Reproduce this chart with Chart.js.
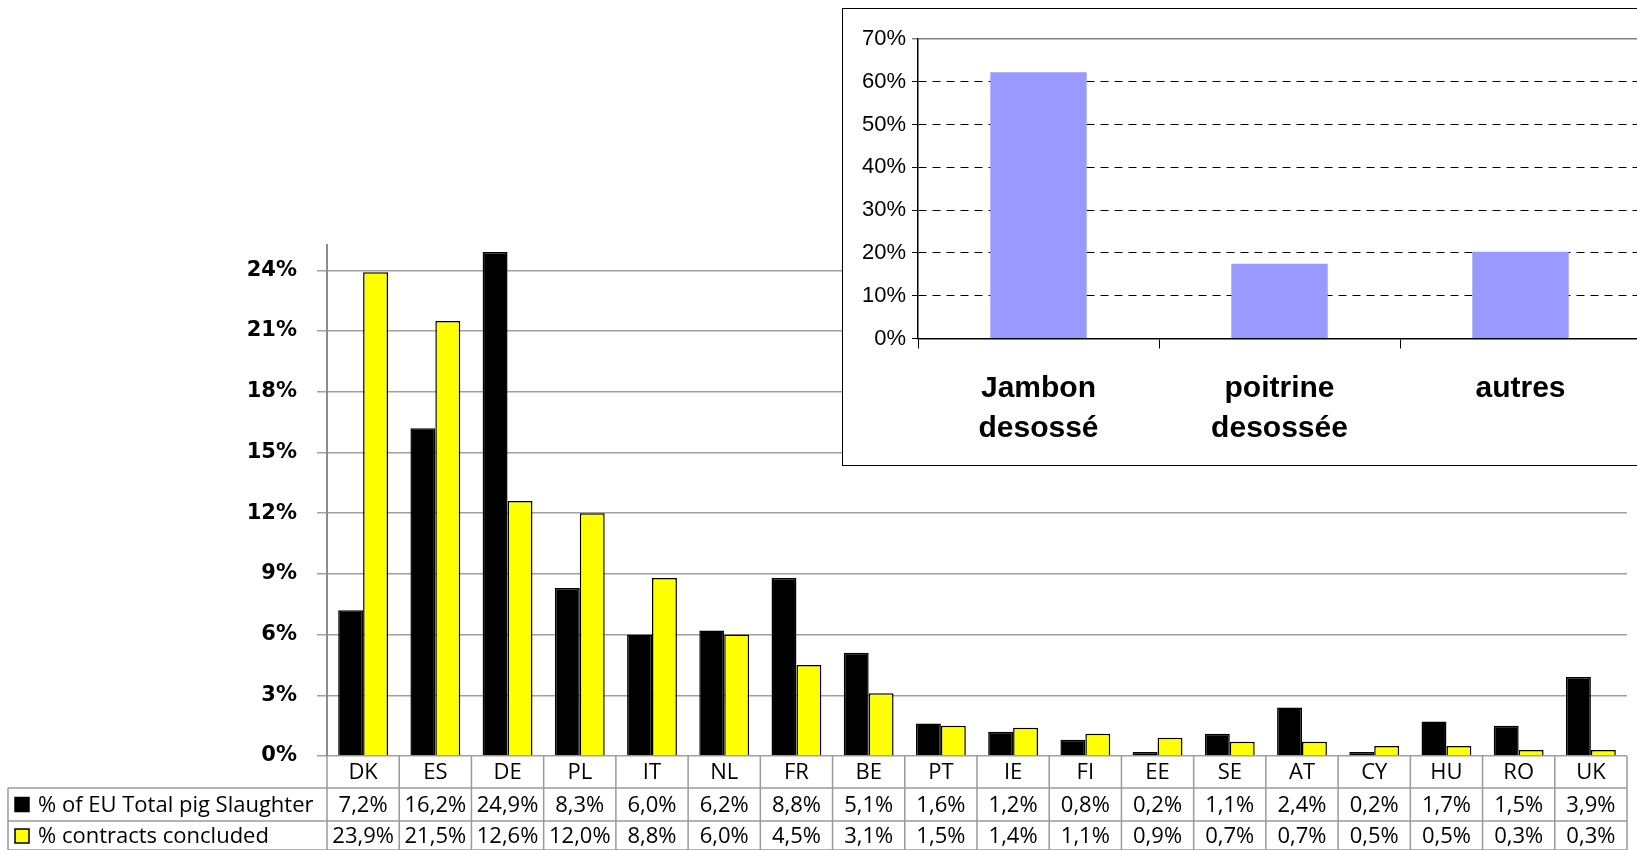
<!DOCTYPE html>
<html>
<head>
<meta charset="utf-8">
<script src="https://cdn.jsdelivr.net/npm/chart.js@4.4.1/dist/chart.umd.min.js"></script>
<style>
  html, body { margin: 0; padding: 0; background: #fff; overflow: hidden; }
  #wrap { position: relative; width: 1637px; height: 850px; }
  #mainChart { position: absolute; left: 0; top: 0; }
  #insetBox {
    position: absolute; left: 842px; top: 8px; width: 900px; height: 456px;
    border: 1.5px solid #000; background: #fff;
  }
</style>
</head>
<body>
<div id="wrap">
  <canvas id="mainChart" width="1637" height="850"></canvas>
  <div id="insetBox"><canvas id="insetChart" width="900" height="456"></canvas></div>
</div>
<script>
// main chart data
const countries = ['DK', 'ES', 'DE', 'PL', 'IT', 'NL', 'FR', 'BE', 'PT', 'IE', 'FI', 'EE', 'SE', 'AT', 'CY', 'HU', 'RO', 'UK'];
const slaughter = [7.2, 16.2, 24.9, 8.3, 6.0, 6.2, 8.8, 5.1, 1.6, 1.2, 0.8, 0.2, 1.1, 2.4, 0.2, 1.7, 1.5, 3.9];
const contracts = [23.9, 21.5, 12.6, 12.0, 8.8, 6.0, 4.5, 3.1, 1.5, 1.4, 1.1, 0.9, 0.7, 0.7, 0.5, 0.5, 0.3, 0.3];
const seriesNames = ['% of EU Total pig Slaughter', '% contracts concluded'];
const yTicks = [0, 3, 6, 9, 12, 15, 18, 21, 24];

// inset chart data
const cuts = [['Jambon', 'desossé'], ['poitrine', 'desossée'], ['autres']];
const cutShares = [62.2, 17.5, 20.3];
const insetTicks = [0, 10, 20, 30, 40, 50, 60, 70];

const fmt = v => v.toFixed(1).replace('.', ',') + '%';

// draws the data table under the x axis, using the x scale for column positions
const tablePlugin = {
  id: 'dataTable',
  afterDraw(chart) {
    const { ctx, chartArea, scales: { x } } = chart;
    const n = countries.length;
    const cw = (x.right - x.left) / n;
    const top = chartArea.bottom;
    const rows = [top, top + 32, top + 65, top + 95];
    const legendLeft = 8;

    ctx.save();
    ctx.strokeStyle = '#9a9a9a';
    ctx.lineWidth = 1.5;
    ctx.beginPath();
    for (let i = 0; i <= n; i++) {
      const px = i < n ? x.getPixelForValue(i) - cw / 2 : x.getPixelForValue(n - 1) + cw / 2;
      ctx.moveTo(px, rows[0]);
      ctx.lineTo(px, rows[3]);
    }
    ctx.moveTo(legendLeft, rows[1]); ctx.lineTo(x.right, rows[1]);
    ctx.moveTo(legendLeft, rows[2]); ctx.lineTo(x.right, rows[2]);
    ctx.moveTo(legendLeft, rows[3] - 1); ctx.lineTo(x.right, rows[3] - 1);
    ctx.moveTo(legendLeft, rows[1]); ctx.lineTo(legendLeft, rows[3]);
    ctx.stroke();

    ctx.fillStyle = '#000';
    ctx.font = '22px "Open Sans"';
    ctx.textAlign = 'center';
    ctx.textBaseline = 'middle';
    countries.forEach((c, i) => {
      const cx = x.getPixelForValue(i);
      ctx.fillText(c, cx, (rows[0] + rows[1]) / 2 + 1);
      ctx.fillText(fmt(slaughter[i]), cx, (rows[1] + rows[2]) / 2 + 1);
      ctx.fillText(fmt(contracts[i]), cx, (rows[2] + rows[3]) / 2 + 1);
    });

    // legend keys
    ctx.textAlign = 'left';
    const keys = [['#000000', '#000000'], ['#ffff00', '#000000']];
    seriesNames.forEach((name, r) => {
      const cy = (rows[r + 1] + rows[r + 2]) / 2;
      ctx.fillStyle = keys[r][0];
      ctx.fillRect(15, cy - 7, 14, 14);
      ctx.strokeStyle = keys[r][1];
      ctx.lineWidth = 1.5;
      ctx.strokeRect(15, cy - 7, 14, 14);
      ctx.fillStyle = '#000';
      ctx.fillText(name, 38, cy + 1);
    });
    ctx.restore();
  }
};

new Chart(document.getElementById('mainChart'), {
  type: 'bar',
  data: {
    labels: countries,
    datasets: [
      {
        label: seriesNames[0],
        data: slaughter,
        backgroundColor: '#000000',
        borderColor: '#000000',
        borderWidth: 1.5
      },
      {
        label: seriesNames[1],
        data: contracts,
        backgroundColor: '#ffff00',
        borderColor: '#000000',
        borderWidth: 1.5
      }
    ]
  },
  options: {
    responsive: false,
    animation: false,
    devicePixelRatio: 1,
    layout: { padding: { top: 245, right: 10, bottom: 94, left: 0 } },
    plugins: { legend: { display: false }, tooltip: { enabled: false } },
    datasets: { bar: { categoryPercentage: 0.69, barPercentage: 1 } },
    scales: {
      x: {
        ticks: { display: false },
        grid: { display: false },
        border: { display: false },
        afterFit: s => { s.height = 0; }
      },
      y: {
        min: 0,
        max: 25.25,
        afterBuildTicks: s => { s.ticks = yTicks.map(v => ({ value: v })); },
        afterFit: s => { s.width = 327; },
        ticks: {
          color: '#000',
          padding: 20,
          font: { family: '"DejaVu Sans"', size: 21, weight: 'bold' },
          callback: v => v + '%'
        },
        grid: { color: '#a0a0a0', lineWidth: 1.5, tickLength: 10 },
        border: { color: '#8c8c8c', width: 2 }
      }
    }
  },
  plugins: [tablePlugin]
});

new Chart(document.getElementById('insetChart'), {
  type: 'bar',
  data: {
    labels: cuts,
    datasets: [{
      data: cutShares,
      backgroundColor: '#9999ff',
      borderWidth: 0,
      barPercentage: 0.4,
      categoryPercentage: 1
    }]
  },
  options: {
    responsive: false,
    animation: false,
    devicePixelRatio: 1,
    layout: { padding: { top: 30, right: 102, bottom: 0, left: 0 } },
    plugins: { legend: { display: false }, tooltip: { enabled: false } },
    scales: {
      x: {
        grid: { offset: true, drawOnChartArea: false, color: '#000', tickLength: 10 },
        border: { color: '#000', width: 1.5 },
        ticks: {
          color: '#000',
          padding: 20,
          font: { family: '"Liberation Sans"', size: 30, weight: 'bold', lineHeight: 1.33 }
        },
        afterFit: s => { s.height = 456 - 30 - 299.5; }
      },
      y: {
        min: 0,
        max: 70,
        afterBuildTicks: s => { s.ticks = insetTicks.map(v => ({ value: v })); },
        afterFit: s => { s.width = 75; },
        ticks: {
          color: '#000',
          padding: 6,
          font: { family: '"Liberation Sans Narrow", "Liberation Sans"', size: 22 },
          callback: v => v + '%'
        },
        grid: {
          color: c => c.tick && c.tick.value === 70 ? '#808080' : '#000',
          lineWidth: c => c.tick && c.tick.value === 70 ? 1.5 : 1,
          tickLength: 6
        },
        border: {
          color: '#000',
          width: 1.5,
          dash: c => c.tick && (c.tick.value === 70 || c.tick.value === 0) ? [] : [8, 6]
        }
      }
    }
  }
});
</script>
</body>
</html>
